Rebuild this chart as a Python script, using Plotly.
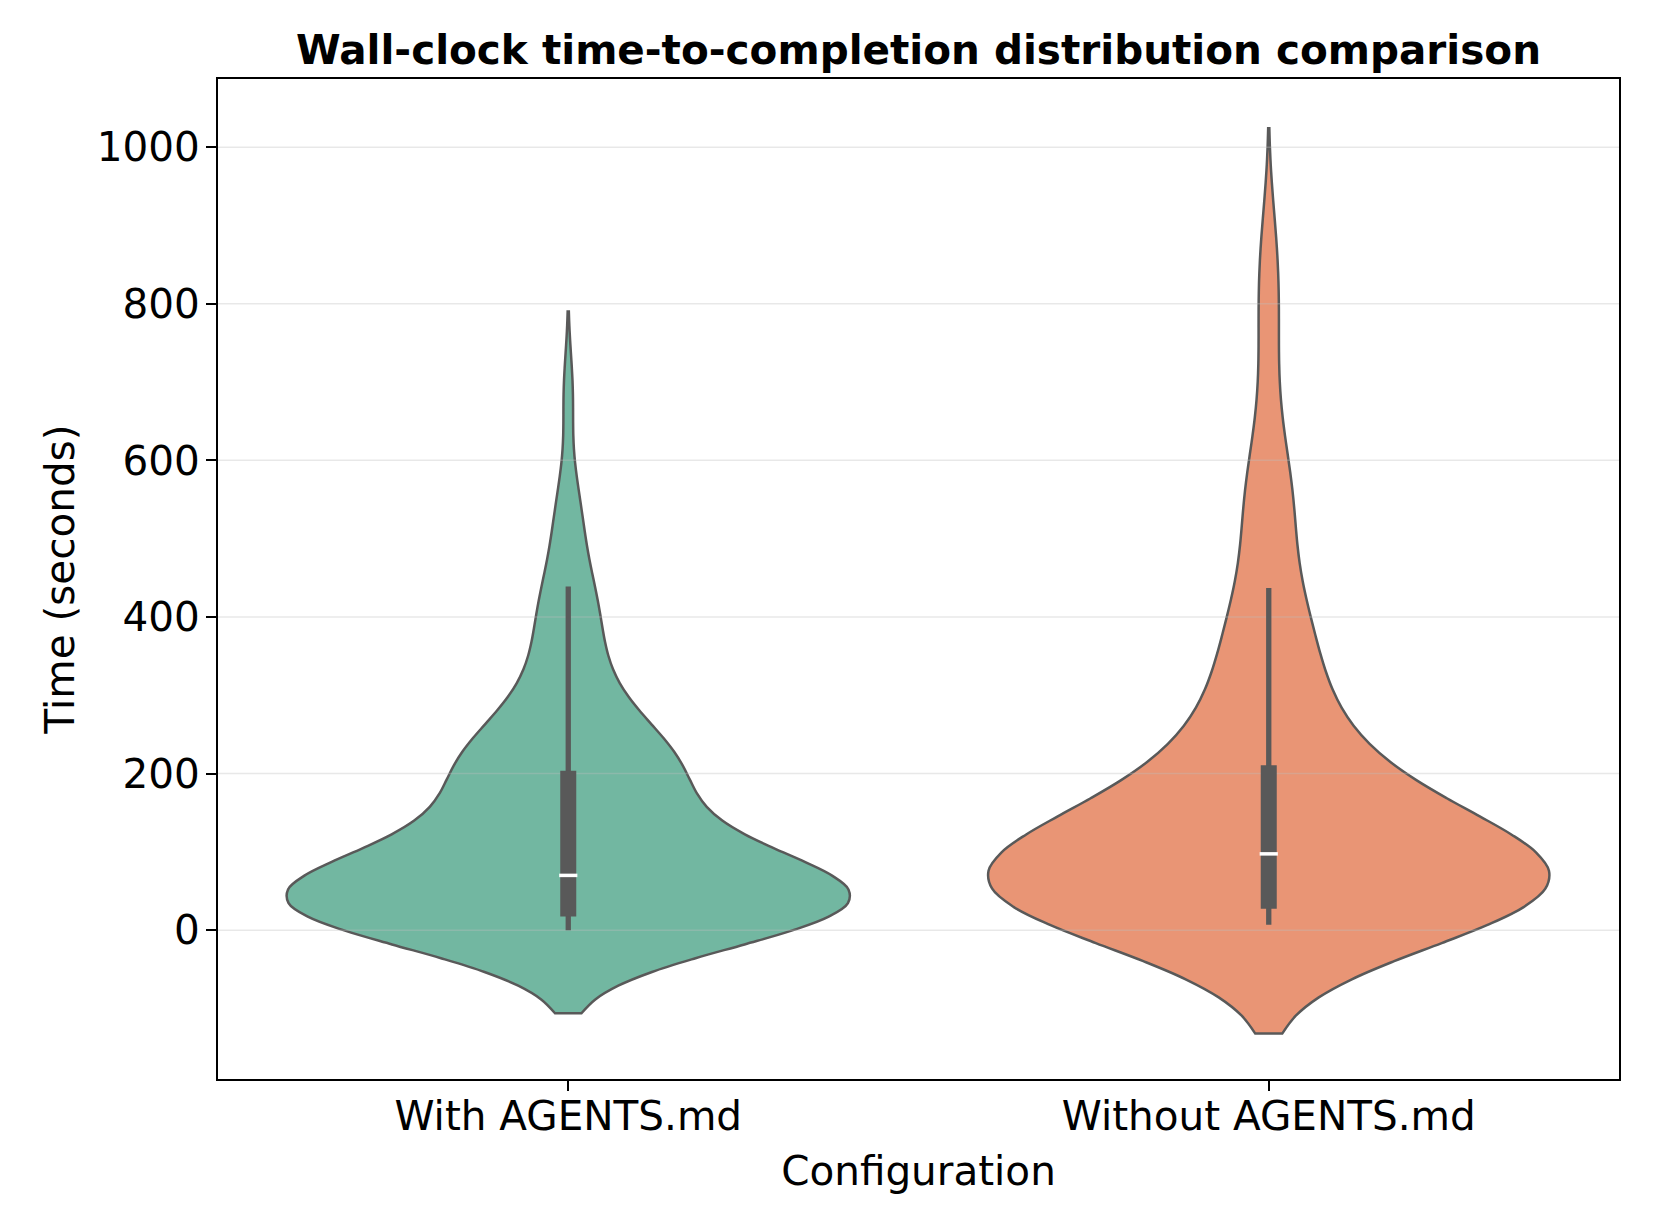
import numpy as np
import plotly.graph_objects as go

categories = ["With AGENTS.md", "Without AGENTS.md"]

with_agents_times = [
    0, 3, 5, 7, 8, 9, 10, 11, 11, 12, 12, 13, 13, 13, 14, 14, 14, 14, 15, 15,
    15, 15, 15, 16, 16, 16, 16, 16, 16, 16,
    18, 22, 26, 30, 33, 36, 39, 41, 43, 45, 47, 49, 51, 52, 54, 55, 56, 57, 58, 59,
    60, 61, 62, 63, 64, 65, 66, 67, 68, 69,
    71, 74, 77, 80, 83, 86, 89, 92, 96, 100, 104, 108, 113, 118, 123, 128, 134, 140, 146, 152,
    158, 164, 170, 176, 182, 187, 192, 196, 200, 203,
    206, 208, 210, 213, 216, 220, 224, 228, 233, 239, 245, 252, 260, 269, 279, 290, 302, 315, 330, 347,
    366, 385, 403, 418, 430, 439, 495, 520, 560, 684,
]

without_agents_times = [
    7, 10, 12, 14, 15, 16, 17, 18, 18, 19, 19, 20, 20, 21, 21, 21, 22, 22, 22, 23,
    23, 23, 23, 24, 24, 24, 24, 25, 25, 25,
    28, 33, 38, 43, 47, 51, 54, 57, 60, 62, 64, 66, 68, 70, 72, 74, 76, 78, 80, 82,
    84, 86, 88, 89, 90, 91, 92, 93, 95, 96,
    99, 100, 102, 104, 106, 108, 110, 112, 114, 116, 118, 121, 124, 127, 130, 133, 137, 141, 145, 150,
    155, 160, 166, 172, 179, 186, 193, 200, 206, 210,
    213, 219, 226, 234, 243, 253, 264, 276, 289, 302, 315, 328, 341, 354, 367, 380, 394, 409, 424, 437,
    500, 515, 535, 555, 580, 610, 680, 760, 820, 885,
]

y_ticks = [0, 200, 400, 600, 800, 1000]

# kde bandwidths (seconds)
bandwidths = [53, 69.5]
fill_colors = ["#72b7a1", "#e99575"]
EDGE = "#595959"
GRID = "rgba(190,190,190,0.35)"
FONT = "DejaVu Sans"
FS = 40.5
X_RANGE = [-0.5, 1.5]

fig = go.Figure()

series = [with_agents_times, without_agents_times]

# violin bodies on the category axis
for name, times, bw, color in zip(categories, series, bandwidths, fill_colors):
    fig.add_trace(go.Violin(
        x=[name] * len(times), y=times,
        bandwidth=bw, spanmode="soft", scalemode="width", width=0.8,
        fillcolor=color, line=dict(color=EDGE, width=2.5),
        points=False, box_visible=False, meanline_visible=False,
        showlegend=False, hoverinfo="skip",
    ))

# grid drawn over the bodies but under the boxes (like matplotlib's default)
for t in y_ticks:
    fig.add_trace(go.Scatter(x=X_RANGE, y=[t, t], xaxis="x2", mode="lines",
                             line=dict(color=GRID, width=1.5), showlegend=False, hoverinfo="skip"))

# seaborn-style inner box: quartile bar, 1.5 IQR whiskers, white median tick
for i, times in enumerate(series):
    arr = np.array(times, dtype=float)
    q1, med, q3 = np.percentile(arr, [25, 50, 75])
    iqr = q3 - q1
    lo = arr[arr >= q1 - 1.5 * iqr].min()
    hi = arr[arr <= q3 + 1.5 * iqr].max()
    fig.add_trace(go.Scatter(x=[i, i], y=[lo, hi], xaxis="x2", mode="lines",
                             line=dict(color=EDGE, width=5.3), showlegend=False, hoverinfo="skip"))
    fig.add_trace(go.Scatter(x=[i, i], y=[q1, q3], xaxis="x2", mode="lines",
                             line=dict(color=EDGE, width=16), showlegend=False, hoverinfo="skip"))
    fig.add_trace(go.Scatter(x=[i], y=[med], xaxis="x2", mode="markers",
                             marker=dict(symbol="line-ew", size=13, color="white",
                                         line=dict(color="white", width=3.5)),
                             showlegend=False, hoverinfo="skip"))

axis_font = dict(family=FONT, size=FS, color="black")

# page body has an 8px margin, so the figure is 16px smaller than the window
fig.update_layout(
    width=1638, height=1190,
    margin=dict(l=210, r=27, t=71, b=119),
    paper_bgcolor="white", plot_bgcolor="white",
    violinmode="overlay",
    font=dict(family=FONT, size=FS, color="black"),
    title=dict(text="Wall-clock time-to-completion distribution comparison",
               x=0.5, xref="paper", xanchor="center",
               y=1 - 42 / 1190, yanchor="middle",
               font=dict(family=FONT, size=FS, color="black", weight="bold")),
    xaxis=dict(
        type="category", categoryorder="array", categoryarray=categories,
        range=X_RANGE,
        showline=True, mirror=True, linecolor="black", linewidth=2.2,
        ticks="outside", ticklen=10, tickwidth=2.2, tickcolor="black",
        ticklabelstandoff=-10, tickfont=axis_font,
        showgrid=False, zeroline=False, automargin=False,
        title=dict(text="Configuration", standoff=18, font=axis_font),
    ),
    xaxis2=dict(overlaying="x", range=X_RANGE, visible=False),
    yaxis=dict(
        range=[-190, 1087], tickvals=y_ticks,
        showline=True, mirror=True, linecolor="black", linewidth=2.2,
        ticks="outside", ticklen=10, tickwidth=2.2, tickcolor="black",
        ticklabelstandoff=-2, tickfont=axis_font,
        showgrid=False, zeroline=False,
        automargin=False,
        title=dict(text="Time (seconds)", standoff=10, font=axis_font),
    ),
)

fig.write_html("out.html")
